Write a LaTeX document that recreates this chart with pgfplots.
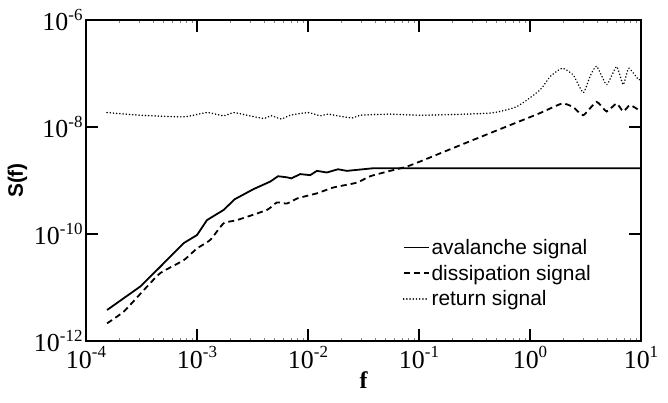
\documentclass[border=0pt]{standalone}
\usepackage{fontspec}
\setmainfont{Liberation Serif}
\newfontfamily\helv{Liberation Sans}
\usepackage{pgfplots}
\pgfplotsset{compat=1.18}
\newcommand{\tl}[1]{10\raisebox{0.42em}{\fontsize{17}{17}\selectfont #1}}
\begin{document}
\begin{tikzpicture}
\path[use as bounding box] (-86bp,-62bp) rectangle (582bp,341bp);
\begin{axis}[
  xmode=log, ymode=log,
  scale only axis, width=555bp, height=321bp,
  xmin=1e-4, xmax=10, ymin=1e-12, ymax=1e-6,
  xtick={1e-4,1e-3,1e-2,1e-1,1,10},
  xticklabels={\tl{-4},\tl{-3},\tl{-2},\tl{-1},\tl{0},\tl{1}},
  ytick={1e-12,1e-10,1e-8,1e-6},
  yticklabels={\tl{-12},\tl{-10},\tl{-8},\tl{-6}},
  minor xtick={}, minor ytick={},
  xtick pos=both, ytick pos=both,
  tick align=inside, major tick length=12bp,
  every major tick/.style={line width=1.8bp, black},
  axis line style={line width=2bp},
  ticklabel style={font=\fontsize{26}{26}\selectfont},
  xticklabel style={yshift=-2bp},
  xlabel={\bfseries f}, xlabel style={font=\fontsize{24}{24}\selectfont, yshift=4bp},
  ylabel={S(f)}, ylabel style={font=\helv\bfseries\fontsize{21}{21}\selectfont},
  legend style={draw=none, fill=none, at={(rel axis cs:0.565,0.33)}, anchor=north west,
    font=\helv\fontsize{21}{21}\selectfont, row sep=5bp,
    /tikz/every even column/.append style={column sep=10bp}},
  legend cell align=left,
  legend image code/.code={\draw[#1] (0bp,0bp) -- (25bp,0bp);},
]
\addplot[black, line width=1.8bp] coordinates {
(1.549e-4,3.80e-12) (3.09e-4,1.047e-11) (4.677e-4,2.455e-11) (7.586e-4,6.76e-11)
(1e-3,9.55e-11) (1.23e-3,1.82e-10) (1.738e-3,2.818e-10) (2.188e-3,4.467e-10)
(3.236e-3,6.918e-10) (4.571e-3,9.55e-10) (5.37e-3,1.202e-9) (6.457e-3,1.148e-9)
(7.079e-3,1.096e-9) (8.511e-3,1.318e-9) (1.047e-2,1.259e-9) (1.202e-2,1.514e-9)
(1.479e-2,1.413e-9) (1.862e-2,1.622e-9) (2.239e-2,1.514e-9) (3.89e-2,1.698e-9)
(6.76e-2,1.698e-9) (0.316,1.698e-9) (10,1.698e-9)
};
\addlegendentry{avalanche signal}
\addplot[black, line width=1.8bp, dash pattern=on 6bp off 4bp, smooth, tension=0.3] coordinates {
(1.549e-4,2.138e-12) (2.188e-4,3.548e-12) (3.311e-4,8.913e-12) (4.677e-4,1.862e-11)
(7.586e-4,3.236e-11) (1e-3,5.37e-11) (1.318e-3,7.762e-11) (1.738e-3,1.585e-10)
(2.291e-3,1.82e-10) (4.266e-3,2.818e-10) (5.248e-3,3.89e-10) (6.457e-3,3.715e-10)
(8.128e-3,4.677e-10) (1.202e-2,5.754e-10) (1.698e-2,7.413e-10) (2.754e-2,9.12e-10)
(3.631e-2,1.202e-9) (5.495e-2,1.514e-9) (7.762e-2,1.82e-9) (0.1096,2.399e-9)
(0.1738,3.548e-9) (0.309,5.754e-9) (0.6166,1.023e-8) (1.23,1.82e-8)
(1.95,2.754e-8) (2.455,2.344e-8) (3.02,1.66e-8) (3.981,2.951e-8) (4.898,1.95e-8)
(6.026,2.754e-8) (6.918,1.95e-8) (7.943,2.57e-8) (9.55,2.089e-8) (10,2.188e-8)
};
\addlegendentry{dissipation signal}
\addplot[black, line width=1.7bp, line cap=round, dash pattern=on 0.01bp off 3.2bp, smooth, tension=0.3] coordinates {
(1.549e-4,1.862e-8) (3.09e-4,1.66e-8) (7.586e-4,1.549e-8) (1.23e-3,1.862e-8)
(1.738e-3,1.622e-8) (2.138e-3,1.862e-8) (2.818e-3,1.66e-8) (3.981e-3,1.445e-8)
(4.677e-3,1.622e-8) (5.754e-3,1.413e-8) (6.918e-3,1.66e-8) (1e-2,1.862e-8)
(1.288e-2,1.622e-8) (1.514e-2,1.738e-8) (2.089e-2,1.549e-8) (2.57e-2,1.479e-8)
(2.951e-2,1.66e-8) (5.495e-2,1.738e-8) (0.1096,1.66e-8) (0.4365,1.82e-8)
(0.7586,2.399e-8) (1.23,4.898e-8) (1.514,8.71e-8) (1.95,1.259e-7)
(2.455,9.333e-8) (3.02,4.365e-8) (3.467,8.71e-8) (3.981,1.38e-7)
(4.898,6.166e-8) (6.026,1.349e-7) (6.918,6.166e-8) (7.762,1.259e-7)
(9.55,7.586e-8) (10,8.318e-8)
};
\addlegendentry{return signal}
\end{axis}
\end{tikzpicture}
\end{document}
